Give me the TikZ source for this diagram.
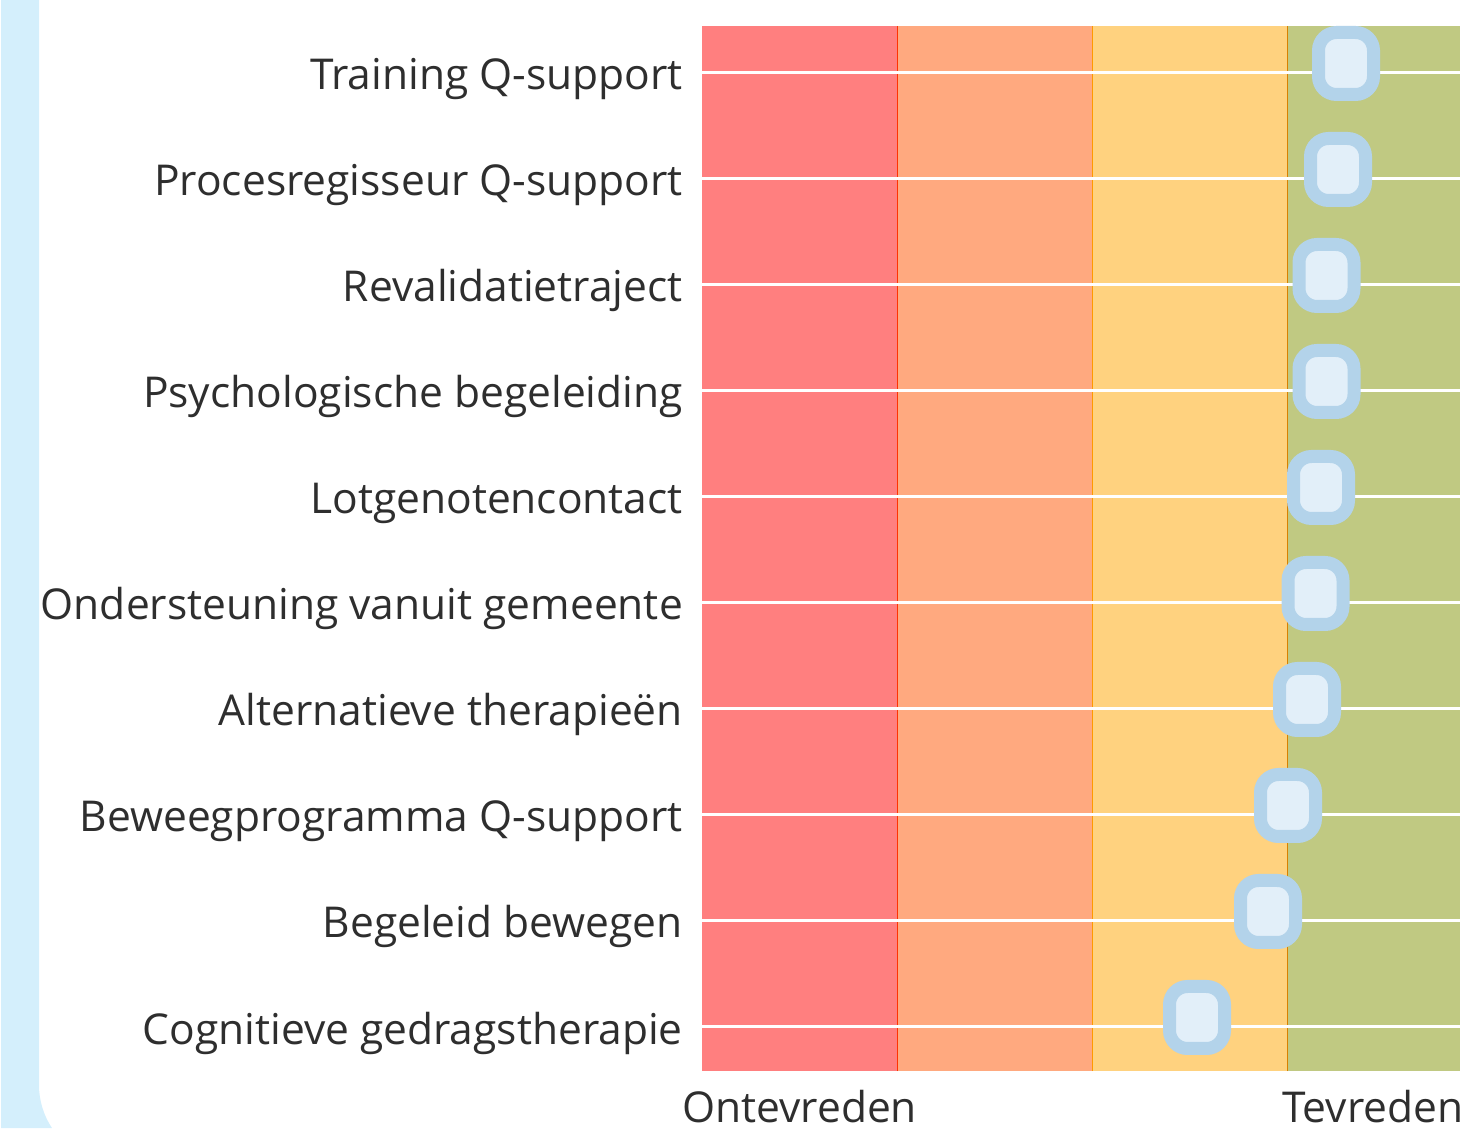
\documentclass[tikz,border=0pt]{standalone}
\usepackage{fontspec}
\usepackage{xcolor}
\setmainfont{Open Sans}
\definecolor{framebg}{HTML}{D4EFFC}
\definecolor{bandred}{HTML}{FF7F7F}
\definecolor{bandorange}{HTML}{FFA97F}
\definecolor{bandyellow}{HTML}{FFD27F}
\definecolor{bandgreen}{HTML}{C0C982}
\definecolor{markerring}{HTML}{B3D3EA}
\definecolor{markerfill}{HTML}{E2EFF9}
\definecolor{labeltext}{HTML}{2E2E2E}

\begin{document}
\begin{tikzpicture}[x=1pt, y=1pt,
  lbl/.style={anchor=base east, inner sep=0pt, text=labeltext, font=\fontsize{42.5}{50}\selectfont},
  axislbl/.style={anchor=base west, inner sep=0pt, text=labeltext, font=\fontsize{42.5}{50}\selectfont},
  rowline/.style={white, line width=3pt},
  marker/.style={draw=markerring, fill=markerfill, line width=13pt, rounded corners=18pt,
    minimum width=55pt, minimum height=62pt, inner sep=0pt}]
\useasboundingbox (0,0) rectangle (1460,1128);
% frame at the left
\fill[framebg] (1,1128) -- (39,1128) -- (39,43) arc[start angle=180, end angle=213.5, radius=78pt] -- (1,0) -- cycle;
% bands
\fill[bandred] (702,57) rectangle (897,1102);
\fill[bandorange] (897,57) rectangle (1092,1102);
\fill[bandyellow] (1092,57) rectangle (1287,1102);
\fill[bandgreen] (1287,57) rectangle (1460,1102);
\draw[red!60!orange, line width=0.8pt] (897,57) -- (897,1102);
\draw[orange!80!yellow, line width=0.8pt] (1092,57) -- (1092,1102);
\draw[orange!70!olive, line width=0.8pt] (1287,57) -- (1287,1102);
% rows
\draw[rowline] (702,1055) -- (1460,1055);
\draw[rowline] (702,949) -- (1460,949);
\draw[rowline] (702,843) -- (1460,843);
\draw[rowline] (702,737) -- (1460,737);
\draw[rowline] (702,631) -- (1460,631);
\draw[rowline] (702,525) -- (1460,525);
\draw[rowline] (702,419) -- (1460,419);
\draw[rowline] (702,313) -- (1460,313);
\draw[rowline] (702,207) -- (1460,207);
\draw[rowline] (702,101) -- (1460,101);
\node[lbl] (training) at (683,1038) {Training Q-support};
\node[lbl] (regisseur) at (683,932) {Procesregisseur Q-support};
\node[lbl] (revalidatie) at (683,826) {Revalidatietraject};
\node[lbl] (psycho) at (683,720) {Psychologische begeleiding};
\node[lbl] (lotgenoten) at (683,614) {Lotgenotencontact};
\node[lbl] (gemeente) at (683,508) {Ondersteuning vanuit gemeente};
\node[lbl] (alternatief) at (683,402) {Alternatieve therapieën};
\node[lbl] (beweeg) at (683,296) {Beweegprogramma Q-support};
\node[lbl] (begeleid) at (683,190) {Begeleid bewegen};
\node[lbl] (cognitief) at (683,84) {Cognitieve gedragstherapie};
% scores
\node[marker] (m-training) at (1346,1064.5) {};
\node[marker] (m-regisseur) at (1338,958.5) {};
\node[marker] (m-revalidatie) at (1326.5,852.5) {};
\node[marker] (m-psycho) at (1326.5,746.5) {};
\node[marker] (m-lotgenoten) at (1321,640.5) {};
\node[marker] (m-gemeente) at (1315.5,534.5) {};
\node[marker] (m-alternatief) at (1307,428.5) {};
\node[marker] (m-beweeg) at (1288,322.5) {};
\node[marker] (m-begeleid) at (1268,216.5) {};
\node[marker] (m-cognitief) at (1197,110.5) {};
% axis
\node[axislbl] (ontevreden) at (682,6) {Ontevreden};
\node[axislbl] (tevreden) at (1282,6) {Tevreden};
\end{tikzpicture}
\end{document}
